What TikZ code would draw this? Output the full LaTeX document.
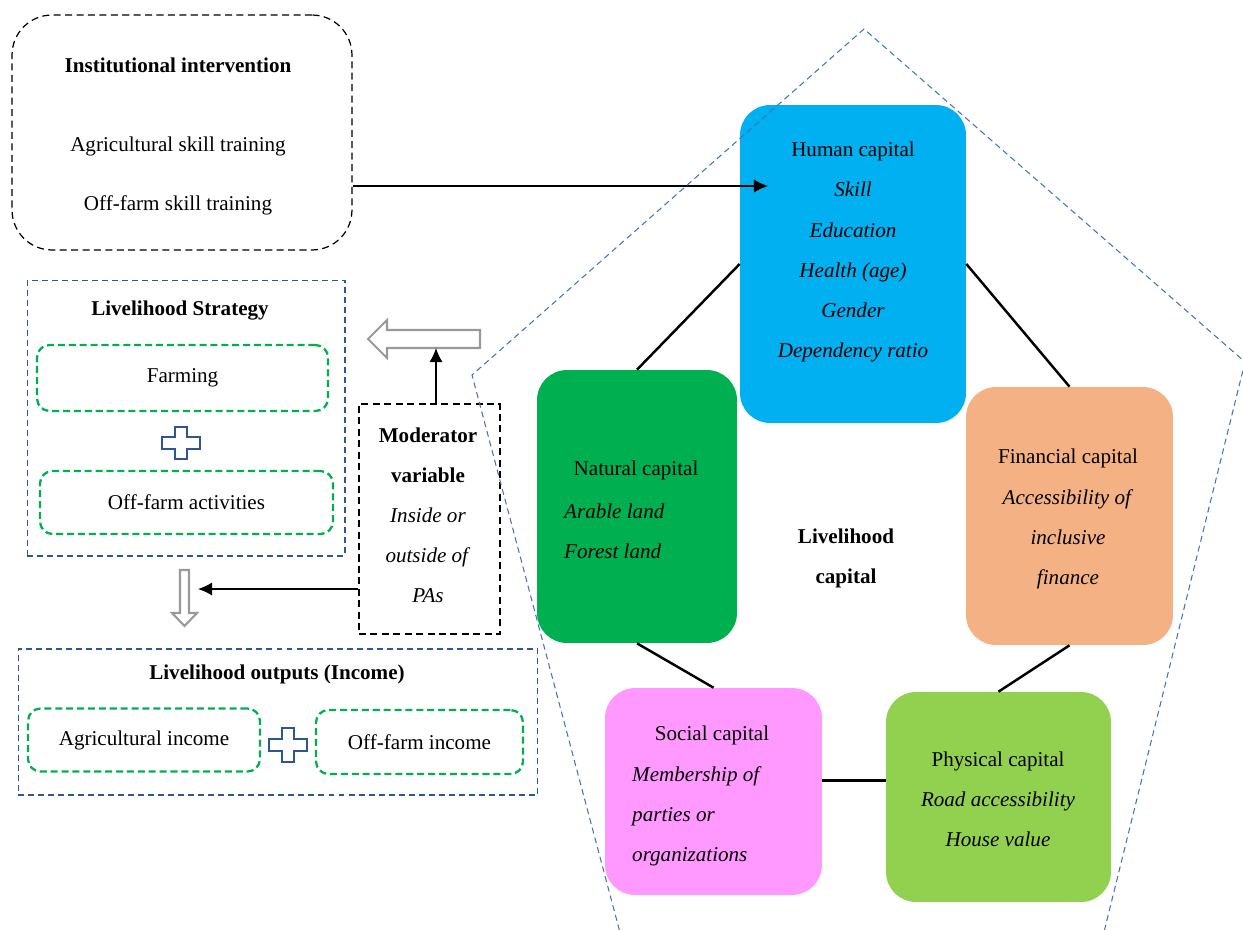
\documentclass[tikz,border=0pt]{standalone}
\usepackage{fontspec}
\setmainfont{Liberation Serif}
\usepackage{tikz}
\usetikzlibrary{positioning,calc,arrows.meta}
\definecolor{boxblue}{RGB}{47,85,151}
\definecolor{pentblue}{RGB}{68,114,196}
\definecolor{dashgreen}{RGB}{0,176,80}
\definecolor{humanblue}{RGB}{0,176,240}
\definecolor{naturalgreen}{RGB}{0,176,80}
\definecolor{financialorange}{RGB}{244,177,131}
\definecolor{socialpink}{RGB}{255,153,255}
\definecolor{physicalgreen}{RGB}{146,208,80}

\begin{document}
\begin{tikzpicture}[x=0.02cm,y=-0.02cm,
		every node/.style={font=\fontsize{12}{22.8}\selectfont},
		title/.style={font=\fontsize{12}{22.8}\selectfont\bfseries},
		capbox/.style={rounded corners=0.6cm,inner sep=0pt},
		bluebox/.style={draw=boxblue,dash pattern=on 3.4pt off 2.3pt,line width=0.6pt},
		greenbox/.style={draw=dashgreen,dash pattern=on 4pt off 2.2pt,line width=1.3pt,rounded corners=0.25cm},
		blackbox/.style={draw=black,dash pattern=on 4pt off 2.5pt,line width=0.7pt},
		link/.style={line width=1.4pt},
		pointer/.style={-{Latex[length=8pt,width=7.5pt]},line width=0.8pt},
		hollow/.style={draw=gray!80,line width=1.2pt,fill=white},
		plusline/.style={draw=boxblue,line width=1.1pt}]
		
		\useasboundingbox (0,0) rectangle (1243,929);
		
		% institutional intervention
		\node[blackbox,rounded corners=0.8cm,minimum width=6.8cm,minimum height=4.7cm] (inst) at (182,132.5) {};
		\node[title] (insttitle) at (178,65) {Institutional intervention};
		\node (agrtrain) at (178,146) {Agricultural skill training};
		\node (offtrain) at (178,205) {Off-farm skill training};
		
		% livelihood strategy
		\node[bluebox,minimum width=6.36cm,minimum height=5.52cm] (strat) at (186,418) {};
		\node[title] (strattitle) at (180,311) {Livelihood Strategy};
		\node[greenbox,minimum width=5.82cm,minimum height=1.32cm] (farm) at (182.5,378) {Farming};
		\node[greenbox,minimum width=5.86cm,minimum height=1.26cm] (offfarm) at (186.5,502.5) {Off-farm activities};
		\coordinate (plus1) at (181,443);
		\draw[plusline] (plus1) ++(-6,-16) -- ++(12,0) -- ++(0,10) -- ++(13,0) -- ++(0,12) -- ++(-13,0) -- ++(0,10) -- ++(-12,0) -- ++(0,-10) -- ++(-13,0) -- ++(0,-12) -- ++(13,0) -- cycle;
		\coordinate (downtail) at (184.5,570);
		\draw[hollow] (downtail) ++(-4.5,0) -- ++(9,0) -- ++(0,43) -- ++(8,0) -- ++(-12.5,13) -- ++(-12.5,-13) -- ++(8,0) -- cycle;
		
		% moderator
		\node[blackbox,minimum width=2.82cm,minimum height=4.6cm] (mod) at (429.5,519) {};
		\node[align=center] (modtext) at (428,515) {\textbf{Moderator}\\\textbf{variable}\\\textit{Inside or}\\\textit{outside of}\\\textit{PAs}};
		\coordinate (lefttail) at (480,339);
		\draw[hollow] (lefttail) ++(0,-9) -- ++(0,18) -- ++(-93,0) -- ++(0,10) -- ++(-19,-19) -- ++(19,-19) -- ++(0,10) -- cycle;
		\coordinate (leftbot) at (436,348);
		\draw[pointer] (leftbot |- mod.north) -- (leftbot);
		\coordinate (downhit) at (198,589);
		\draw[pointer] (mod.west |- downhit) -- (downhit);
		
		% livelihood outputs
		\node[bluebox,minimum width=10.4cm,minimum height=2.92cm] (outp) at (278,722) {};
		\node[title] (outtitle) at (277,674) {Livelihood outputs (Income)};
		\node[greenbox,minimum width=4.64cm,minimum height=1.26cm] (agrinc) at (144,740) {Agricultural income};
		\node[greenbox,minimum width=4.14cm,minimum height=1.28cm] (offinc) at (419.5,742) {Off-farm income};
		\coordinate (plus2) at (288,745);
		\draw[plusline] (plus2) ++(-6,-17) -- ++(12,0) -- ++(0,11) -- ++(13,0) -- ++(0,12) -- ++(-13,0) -- ++(0,11) -- ++(-12,0) -- ++(0,-11) -- ++(-13,0) -- ++(0,-12) -- ++(13,0) -- cycle;
		
		% livelihood capital
		\node[capbox,fill=humanblue,minimum width=4.52cm,minimum height=6.36cm] (human) at (853,264) {};
		\node[align=center] (humantext) at (853,252) {Human capital\\\textit{Skill}\\\textit{Education}\\\textit{Health (age)}\\\textit{Gender}\\\textit{Dependency ratio}};
		
		\node[capbox,fill=naturalgreen,minimum width=4cm,minimum height=5.46cm] (natural) at (637,506.5) {};
		\node (naturaltitle) at (636,470) {Natural capital};
		\node[align=left,anchor=west] (naturaltext) at (558,531) {\textit{Arable land}\\\textit{Forest land}};
		
		\node[capbox,fill=financialorange,minimum width=4.14cm,minimum height=5.16cm] (financial) at (1069.5,516) {};
		\node[align=center] (financialtext) at (1068,519) {Financial capital\\\textit{Accessibility of}\\\textit{inclusive}\\\textit{finance}};
		
		\node[capbox,fill=socialpink,minimum width=4.34cm,minimum height=4.14cm] (social) at (713.5,791.5) {};
		\node (socialtitle) at (712,735) {Social capital};
		\node[align=left,anchor=west] (socialtext) at (626,816) {\textit{Membership of}\\\textit{parties or}\\\textit{organizations}};
		
		\node[capbox,fill=physicalgreen,minimum width=4.5cm,minimum height=4.2cm] (physical) at (998.5,797) {};
		\node[align=center] (physicaltext) at (998,799) {Physical capital\\\textit{Road accessibility}\\\textit{House value}};
		
		\node[title,align=center] (livcap) at (846,558) {Livelihood\\capital};
		
		\draw[link] (human.west) -- (natural.north);
		\draw[link] (human.east) -- (financial.north);
		\draw[link] (natural.south) -- (social.north);
		\draw[link] (financial.south) -- (physical.north);
		\draw[link] ([yshift=0.22cm]social.east) -- ([yshift=0.22cm]social.east -| physical.west);
		
		\coordinate (skillpt) at (768,186);
		\draw[pointer] (inst.east |- skillpt) -- (skillpt);
		
		% pentagon
		\coordinate (ptop) at (864,29);
		\coordinate (pleft) at (472,375);
		\coordinate (pright) at (1245,362);
		\coordinate (pbl) at (622,940);
		\coordinate (pbr) at (1102,940);
		\draw[draw=pentblue,dash pattern=on 3.4pt off 2.3pt,line width=0.6pt] (pbl) -- (pleft) -- (ptop) -- (pright) -- (pbr);
	\end{tikzpicture}
\end{document}
